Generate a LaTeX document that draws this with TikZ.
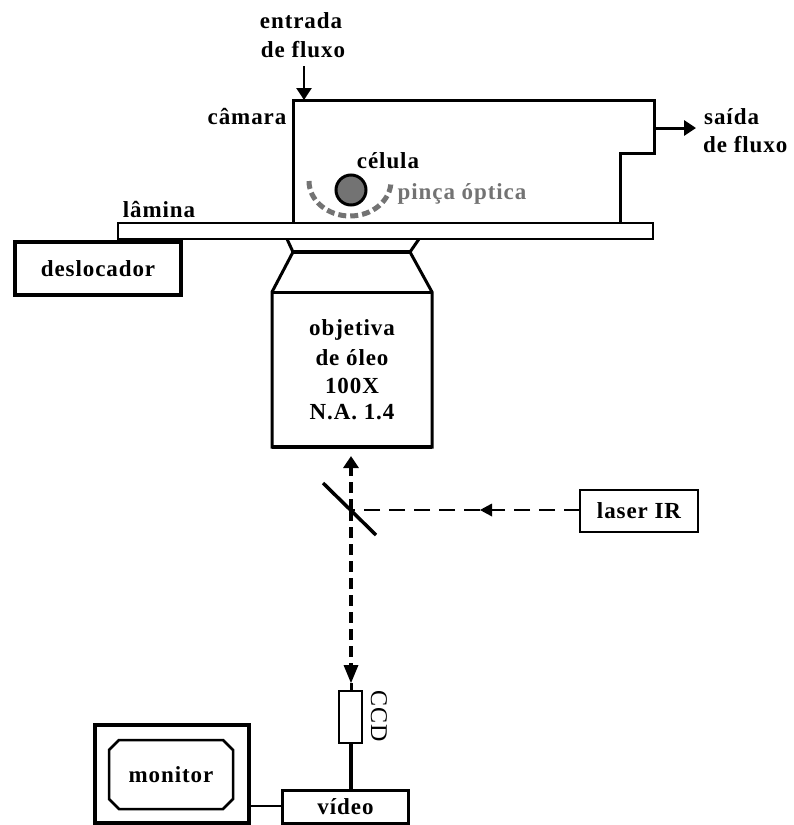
\documentclass[tikz,border=0pt]{standalone}
\usepackage{fontspec}
\setmainfont{Liberation Serif}
\usetikzlibrary{arrows.meta,shapes.misc}
\tikzset{
  x=1pt,y=-1pt,
  lbl/.style={font=\fontsize{23}{26}\selectfont\bfseries\addfontfeature{LetterSpace=4},align=center,inner sep=0pt,text=black},
  boxthin/.style={draw=black,line width=2.5pt,inner sep=0pt,outer sep=0pt,fill=white,anchor=north west},
  boxthick/.style={draw=black,line width=4pt,inner sep=0pt,outer sep=0pt,fill=white,anchor=north west},
  wall/.style={draw=black,line width=3pt,line join=miter},
  beam/.style={draw=black,line width=3.5pt,dash pattern=on 11pt off 6pt},
  thinbeam/.style={draw=black,line width=1.3pt,dash pattern=on 16pt off 9pt},
  wire/.style={draw=black,line width=3pt},
  tip/.style={-{Triangle[length=12pt,width=15pt]}},
}
\begin{document}
\begin{tikzpicture}
\useasboundingbox (0,0) rectangle (794,825);
% slide and chamber
\node[boxthin,minimum width=535pt,minimum height=16pt] (lamina) at (118,223) {};
\draw[wall] (293,223) -- (293,100) -- (654,100) -- (654,153) -- (620,153) -- (620,223);
\coordinate (chamberOut) at (655,128);
% objective
\draw[wall] (287,239) -- (293,252) -- (272,292) -- (272,447) -- (432,447) -- (432,292) -- (410,252) -- (419,239);
\draw[wall,line width=4pt] (293,252) -- (410,252);
\draw[wall] (272,292) -- (432,292);
\draw[wall,line width=4.5pt] (272,447) -- (432,447);
\node[lbl] (objlabel) at (352,330) {objetiva};
\node[lbl] (objlabel2) at (352,358) {de óleo};
\node[lbl] (objlabel3) at (352,386) {100X};
\node[lbl] (objlabel5) at (352,412) {N.A. 1.4};
\coordinate (objBottom) at (351,456);
% displacer
\node[boxthick,minimum width=166pt,minimum height=53pt,lbl] (desl) at (15,242) {deslocador};
% cell and tweezers
\draw[draw=black!55,line width=5pt,dash pattern=on 8pt off 4pt] (309,181) arc[start angle=180,delta angle=-180,x radius=41,y radius=35];
\node[circle,draw=black,line width=3pt,fill=black!55,minimum size=30pt,inner sep=0pt] (cell) at (351,190) {};
\node[lbl] (celula) at (388,161) {célula};
\node[lbl,text=black!55] (pinca) at (462,194) {pinça óptica};
% other labels
\node[lbl] (entrada) at (301,21) {entrada};
\node[lbl] (defluxoA) at (303,50) {de fluxo};
\node[lbl,anchor=west] (saida) at (704,117) {saída};
\node[lbl,anchor=west] (defluxoB) at (703,145) {de fluxo};
\node[lbl] (camara) at (247,117) {câmara};
\node[lbl] (laminalbl) at (159,209) {lâmina};
% flow arrows
\coordinate (inTop) at (304,66);
\coordinate (inTip) at (304,100);
\draw[wire,line width=2.5pt,tip] (inTop) -- (inTip);
\coordinate (outTip) at (696,128);
\draw[wire,tip] (chamberOut) -- (outTip);
% mirror and beams
\coordinate (mirrorA) at (323,483);
\coordinate (mirrorB) at (376,535);
\coordinate (mirrorC) at (351,510);
\draw[wire,line width=3.5pt] (mirrorA) -- (mirrorB);
\node[boxthin,minimum width=118pt,minimum height=42pt,lbl] (laser) at (580,490) {laser IR};
\coordinate (laserOut) at (laser.west |- mirrorC);
\draw[thinbeam] (laserOut) -- (mirrorC);
\coordinate (thinHead) at (480,510);
\fill[black] (thinHead) -- (492,503.5) -- (492,516.5) -- cycle;
\node[boxthin,minimum width=23pt,minimum height=52pt] (ccd) at (339,691) {};
\node[font=\fontsize{24}{26}\selectfont\addfontfeature{LetterSpace=4},rotate=-90,inner sep=0pt] (ccdlbl) at (379,716) {CCD};
\draw[beam,tip] (mirrorC) -- (objBottom);
\draw[beam] (mirrorC) -- (351,670);
\coordinate (ccdTop) at (351,683);
\fill[black] (ccdTop) -- (343.5,665) -- (358.5,665) -- cycle;
\draw[wire] (ccdTop) -- (ccdTop |- ccd.north);
% monitor, video
\node[boxthick,minimum width=154pt,minimum height=98pt] (monitor) at (95,725) {};
\node[chamfered rectangle,chamfered rectangle xsep=5pt,chamfered rectangle ysep=5pt,chamfered rectangle angle=45,draw=black,line width=2.5pt,minimum width=124pt,minimum height=69pt,inner sep=0pt,lbl] (screen) at (171,774.5) {monitor};
\node[boxthin,line width=3pt,minimum width=126pt,minimum height=33pt,lbl] (video) at (282.5,790.5) {vídeo};
\draw[wire,line width=4pt] (ccd.south) -- (ccd.south |- video.north);
\coordinate (linkY) at (0,806);
\draw[wire,line width=2.2pt] (monitor.east |- linkY) -- (video.west |- linkY);
\end{tikzpicture}
\end{document}
